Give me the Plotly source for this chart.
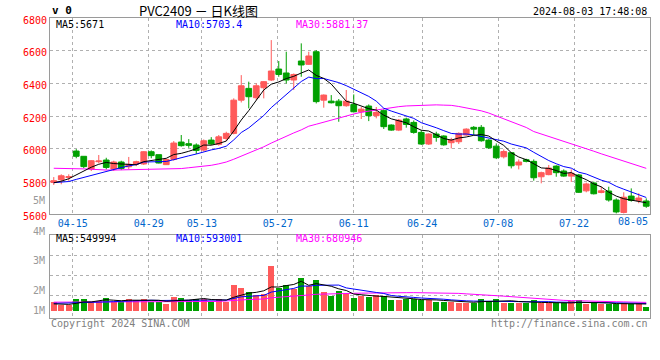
import plotly.graph_objects as go
import pandas as pd

# ---------------- data ----------------
dates = [
    "2024-04-10", "2024-04-11", "2024-04-12", "2024-04-15", "2024-04-16", "2024-04-17", "2024-04-18", "2024-04-19",
    "2024-04-22", "2024-04-23", "2024-04-24", "2024-04-25", "2024-04-26", "2024-04-29", "2024-04-30",
    "2024-05-06", "2024-05-07", "2024-05-08", "2024-05-09", "2024-05-10", "2024-05-13", "2024-05-14", "2024-05-15",
    "2024-05-16", "2024-05-17", "2024-05-20", "2024-05-21", "2024-05-22", "2024-05-23", "2024-05-24", "2024-05-27",
    "2024-05-28", "2024-05-29", "2024-05-30", "2024-05-31",
    "2024-06-03", "2024-06-04", "2024-06-05", "2024-06-06", "2024-06-07", "2024-06-11", "2024-06-12", "2024-06-13",
    "2024-06-14", "2024-06-17", "2024-06-18", "2024-06-19", "2024-06-20", "2024-06-21", "2024-06-24", "2024-06-25",
    "2024-06-26", "2024-06-27", "2024-06-28",
    "2024-07-01", "2024-07-02", "2024-07-03", "2024-07-04", "2024-07-05", "2024-07-08", "2024-07-09", "2024-07-10",
    "2024-07-11", "2024-07-12", "2024-07-15", "2024-07-16", "2024-07-17", "2024-07-18", "2024-07-19", "2024-07-22",
    "2024-07-23", "2024-07-24", "2024-07-25", "2024-07-26", "2024-07-29", "2024-07-30", "2024-07-31",
    "2024-08-01", "2024-08-02", "2024-08-05",
]

opens = [5795, 5812, 5826, 5987, 5955, 5877, 5922, 5932, 5877, 5920,
         5891, 5908, 5908, 5983, 5965, 5904, 5936, 6042, 6032, 6024,
         5993, 6054, 6028, 6064, 6095, 6298, 6370, 6313, 6374, 6421,
         6488, 6464, 6421, 6537, 6517, 6594, 6298, 6292, 6292, 6264,
         6272, 6227, 6262, 6203, 6234, 6146, 6115, 6183, 6162, 6101,
         6030, 6091, 6079, 6038, 6044, 6085, 6132, 6132, 6054, 6017,
         5952, 5977, 5902, 5934, 5924, 5830, 5843, 5895, 5865, 5834,
         5841, 5744, 5792, 5734, 5743, 5688, 5612, 5712, 5684, 5682]
highs = [5828, 5845, 5845, 5999, 5955, 5932, 5963, 5946, 5928, 5928,
         5951, 5928, 5987, 5991, 5965, 5940, 6048, 6085, 6060, 6034,
         6058, 6072, 6085, 6105, 6309, 6451, 6411, 6400, 6415, 6665,
         6537, 6594, 6461, 6645, 6594, 6604, 6333, 6329, 6305, 6360,
         6333, 6256, 6272, 6256, 6242, 6150, 6183, 6191, 6174, 6115,
         6095, 6105, 6083, 6068, 6101, 6126, 6140, 6146, 6060, 6034,
         5997, 5977, 5936, 5940, 5936, 5861, 5902, 5900, 5875, 5875,
         5847, 5794, 5800, 5769, 5769, 5698, 5735, 5759, 5729, 5698]
lows = [5780, 5784, 5805, 5943, 5882, 5865, 5912, 5875, 5865, 5871,
        5877, 5895, 5902, 5943, 5912, 5902, 5928, 6014, 6007, 5969,
        5985, 6024, 6020, 6048, 6089, 6284, 6248, 6298, 6309, 6415,
        6441, 6400, 6360, 6441, 6513, 6278, 6252, 6278, 6166, 6258,
        6223, 6183, 6170, 6187, 6122, 6111, 6109, 6130, 6093, 6024,
        6024, 6044, 6020, 6003, 6030, 6081, 6085, 6044, 6000, 5938,
        5942, 5881, 5875, 5918, 5806, 5790, 5839, 5830, 5830, 5798,
        5731, 5735, 5722, 5729, 5678, 5606, 5606, 5678, 5668, 5640]
closes = [5806, 5836, 5830, 5955, 5892, 5928, 5926, 5887, 5920, 5881,
          5906, 5922, 5983, 5959, 5914, 5936, 6036, 6020, 6022, 5991,
          6050, 6030, 6074, 6095, 6298, 6386, 6319, 6386, 6411, 6476,
          6455, 6421, 6455, 6513, 6568, 6289, 6329, 6282, 6264, 6292,
          6227, 6243, 6203, 6223, 6136, 6115, 6176, 6150, 6101, 6030,
          6091, 6070, 6025, 6054, 6095, 6121, 6121, 6050, 6007, 5946,
          5984, 5897, 5920, 5924, 5824, 5855, 5883, 5855, 5834, 5851,
          5735, 5786, 5726, 5744, 5688, 5615, 5705, 5685, 5700, 5650]
volumes = [740000, 470000, 470000, 960000, 960000, 740000, 820000, 1040000, 740000, 740000,
           960000, 880000, 960000, 740000, 740000, 550000, 1150000, 1040000, 880000, 960000,
           960000, 740000, 960000, 740000, 2110000, 1860000, 1530000, 1290000, 1370000, 3690000,
           1830000, 2110000, 1750000, 2680000, 2050000, 2520000, 1560000, 1210000, 1620000, 1370000,
           1040000, 1210000, 1090000, 1290000, 1210000, 880000, 880000, 960000, 960000, 880000,
           878000, 740000, 740000, 740000, 660000, 660000, 660000, 980000, 800000, 980000,
           660000, 660000, 660000, 600000, 880000, 600000, 600000, 600000, 600000, 800000,
           840000, 580000, 660000, 550000, 550000, 580000, 600000, 590000, 640000, 340000]

# moving-average values at the left edge (window reaches before the visible data)
ma5_head = [5793, 5803, 5818, 5843]
ma10_head = [5794, 5797, 5801, 5814, 5826, 5840, 5853, 5864, 5876]
ma30_head = [5882, 5882, 5881, 5880, 5878, 5876, 5872, 5871, 5871, 5872,
             5875, 5876, 5876, 5876, 5876, 5877, 5878, 5880, 5885, 5889,
             5894, 5900, 5909, 5920, 5937, 5955, 5973, 5993, 6013]
vma5_head = [560000, 540000, 520000, 600000]
vma10_head = [600000, 610000, 620000, 640000, 660000, 680000, 700000, 720000, 740000]
vma30_head = [700000, 700000, 702000, 704000, 706000, 708000, 710000, 712000, 714000, 716000,
              718000, 720000, 722000, 724000, 726000, 728000, 730000, 732000, 735000, 740000,
              745000, 750000, 760000, 800000, 851000, 890000, 918000, 938000, 960000]

tick_labels = ["04-15", "04-29", "05-13", "05-27", "06-11", "06-24", "07-08", "07-22", "08-05"]
y_ticks = [5600, 5800, 6000, 6200, 6400, 6600, 6800]

title_text = "PVC2409 － 日K线图"
stamp_text = "2024-08-03 17:48:08"
price_ma_text = ["MA5:5671", "MA10:5703.4", "MA30:5881.37"]
vol_ma_text = ["MA5:549994", "MA10:593001", "MA30:680946"]
vol_axis_text = ["4M", "3M", "2M", "1M"]

# ---------------- derived ----------------
def moving_average(values, n, head):
    rolled = pd.Series(values, dtype=float).rolling(n).mean().round(2).tolist()
    return list(head) + rolled[len(head):]

ma5 = moving_average(closes, 5, ma5_head)
ma10 = moving_average(closes, 10, ma10_head)
ma30 = moving_average(closes, 30, ma30_head)
vma5 = moving_average(volumes, 5, vma5_head)
vma10 = moving_average(volumes, 10, vma10_head)
vma30 = moving_average(volumes, 30, vma30_head)

n = len(dates)
xs = list(range(n))
labels_md = [d[5:] for d in dates]

# Sina places its date grid on an (n-1)-slot grid while candles sit on an n-slot grid
def grid_pos(k):
    return k * n / (n - 1) - 0.5

tick_idx = [labels_md.index(t) for t in tick_labels]
grid_vals = [grid_pos(k) for k in tick_idx if grid_pos(k) < n - 0.5]
grid_text = [t for t, k in zip(tick_labels, tick_idx) if grid_pos(k) < n - 0.5]

RED = "#FF5A5A"
GREEN = "#00A000"
MONO = "DejaVu Sans Mono"
GRID = "#B0B0B0"
FRAME = "#9A9A9A"
DATE_BLUE = "#0066CC"

W, H = 660, 360
ML, MR, MT, MB = 50, 10, 18, 42
PW, PH = W - ML - MR, H - MT - MB


def pyf(ypx):
    return (H - MB - ypx) / PH


def pxf(xpx):
    return (xpx - ML) / PW


VOL_PER_PX = 82000.0
vol_base_px, vol_top_px, vol_bot_px = 310.7, 234.7, 318.0
vol_range = [-(vol_bot_px - vol_base_px) * VOL_PER_PX, (vol_base_px - vol_top_px) * VOL_PER_PX]
vol_grid = [(vol_base_px - y) * VOL_PER_PX for y in (255.0, 275.0, 295.7)]

fig = go.Figure()

fig.add_trace(go.Candlestick(
    x=xs, open=opens, high=highs, low=lows, close=closes,
    increasing=dict(line=dict(color=RED, width=1), fillcolor=RED),
    decreasing=dict(line=dict(color=GREEN, width=1), fillcolor=GREEN),
    whiskerwidth=0, showlegend=False, hoverinfo="skip",
    xaxis="x", yaxis="y",
))
for vals, col in ((ma30, "#FF00FF"), (ma10, "#0000FF"), (ma5, "#000000")):
    fig.add_trace(go.Scatter(x=xs, y=vals, mode="lines", line=dict(color=col, width=1),
                             showlegend=False, hoverinfo="skip", xaxis="x", yaxis="y"))

bar_colors = [RED if c >= o else GREEN for o, c in zip(opens, closes)]
fig.add_trace(go.Bar(x=xs, y=volumes, marker=dict(color=bar_colors, line=dict(width=0)),
                     width=0.8, showlegend=False, hoverinfo="skip", xaxis="x2", yaxis="y2"))
for vals, col in ((vma30, "#FF00FF"), (vma10, "#0000FF"), (vma5, "#000000")):
    fig.add_trace(go.Scatter(x=xs, y=vals, mode="lines", line=dict(color=col, width=1),
                             showlegend=False, hoverinfo="skip", xaxis="x2", yaxis="y2"))

axis_common = dict(showline=True, mirror=True, linecolor=FRAME, linewidth=1,
                   gridcolor=GRID, griddash="dot", gridwidth=1, zeroline=False, ticks="")

fig.update_layout(
    width=W, height=H,
    margin=dict(l=ML, r=MR, t=MT, b=MB, pad=0),
    paper_bgcolor="white", plot_bgcolor="white",
    font=dict(family=MONO, size=10, color="#000000"),
    boxgap=0.1, boxgroupgap=0.15, bargap=0,
    hovermode=False,
    xaxis=dict(domain=[0, 1], range=[-0.5, n - 0.5], tickmode="array", tickvals=grid_vals,
               ticktext=grid_text, tickfont=dict(family=MONO, size=10, color=DATE_BLUE),
               rangeslider=dict(visible=False), anchor="y", **axis_common),
    yaxis=dict(domain=[pyf(214.4), 1], range=[5600, 6800], tickmode="array", tickvals=y_ticks,
               tickfont=dict(family=MONO, size=10, color="#FF0000"), ticklabelshift=2,
               anchor="x", **axis_common),
    xaxis2=dict(domain=[0, 1], range=[-0.5, n - 0.5], matches="x", tickmode="array",
                tickvals=grid_vals, showticklabels=False, anchor="y2", **axis_common),
    yaxis2=dict(domain=[0, pyf(vol_top_px)], range=vol_range, tickmode="array", tickvals=vol_grid,
                showticklabels=False, anchor="x2", **axis_common),
)

annotations = []


def ann(text, xpx, ypx, color="#000000", size=10, xanchor="left", family=MONO):
    annotations.append(dict(text=text, x=pxf(xpx), y=pyf(ypx), xref="paper", yref="paper",
                            xanchor=xanchor, yanchor="middle", showarrow=False,
                            font=dict(family=family, size=size, color=color)))


ann("<b>v 0</b>", 50, 10.5, size=11)
ann(title_text, 198, 10, size=13, xanchor="center", family="Noto Sans CJK SC")
ann(stamp_text, 649, 11.5, xanchor="right")
for txt, x0, col in zip(price_ma_text, (54, 174, 294), ("#000000", "#0000FF", "#FF00FF")):
    ann(txt, x0, 24, color=col)
for txt, x0, col in zip(vol_ma_text, (54, 174, 294), ("#000000", "#0000FF", "#FF00FF")):
    ann(txt, x0, 238.5, color=col)
for txt, y0 in zip(vol_axis_text, (231, 260.7, 290.7, 310.7)):
    ann(txt, 46.5, y0, color="#999999", xanchor="right")
ann("5M", 46.5, 200.7, color="#999999", xanchor="right")
ann(tick_labels[-1], 649.5, 222, color=DATE_BLUE, xanchor="right")
ann("Copyright 2024 SINA.COM", 49, 323.5, color="#808080")
ann("http://finance.sina.com.cn", 649.5, 323.5, color="#808080", xanchor="right")

fig.update_layout(annotations=annotations)

fig.write_html("out.html", config={"displayModeBar": False, "staticPlot": True},
               post_script="document.body.style.margin='0';document.body.style.padding='0';")
